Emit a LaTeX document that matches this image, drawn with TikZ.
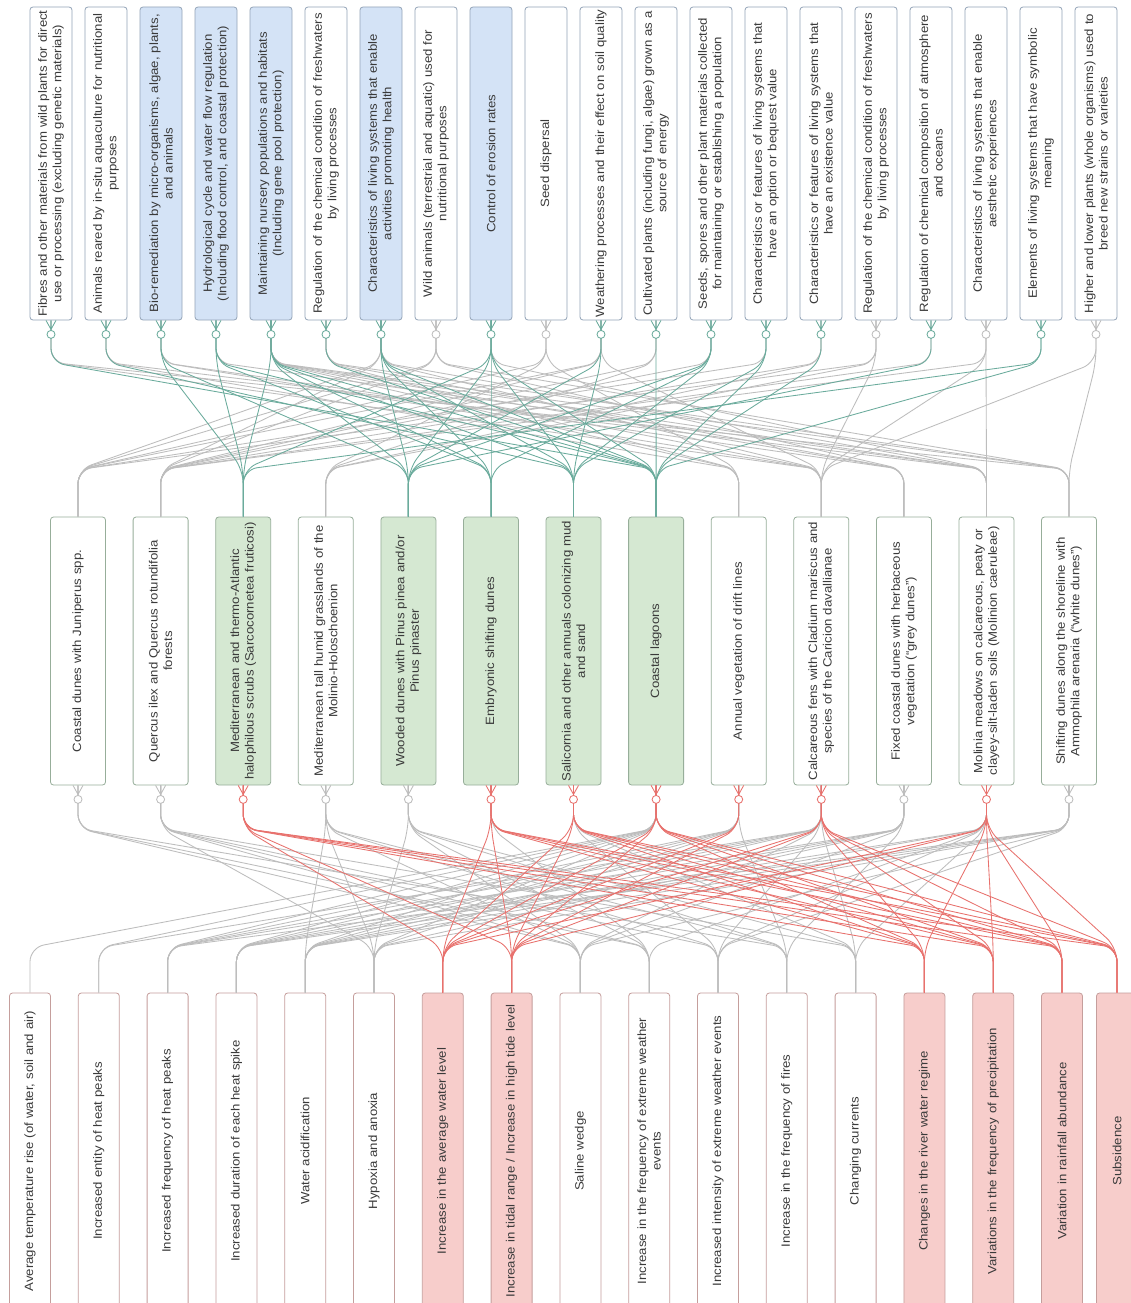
\documentclass[tikz,border=0pt]{standalone}
\usepackage{fontspec}
\newfontfamily\labelfont[FakeStretch=1.1]{Liberation Sans}
\usetikzlibrary{calc}
\definecolor{txt}{HTML}{3A3A3A}
\definecolor{svcborder}{HTML}{93A4B8}
\definecolor{svcfill}{HTML}{D4E3F6}
\definecolor{habborder}{HTML}{97AE9A}
\definecolor{habfill}{HTML}{D5E8D2}
\definecolor{prsborder}{HTML}{C59E9C}
\definecolor{prsfill}{HTML}{F7CDCB}
\definecolor{edgegray}{HTML}{BDBDBD}
\definecolor{edgeteal}{HTML}{6AAB9C}
\definecolor{edgered}{HTML}{E8716D}

% crow's foot (zero or many) under a box
\newcommand\zeromany[2]{%
  \draw[#2, line width=0.85pt]
    ($(#1.west)+(-5,0)$) -- ($(#1.west)+(0,9)$) -- ($(#1.west)+(5,0)$)
    ($(#1.west)$) -- ($(#1.west)+(0,10)$);
  \draw[#2, line width=0.85pt, fill=white] ($(#1.west)+(0,14)$) circle (4pt);}

\begin{document}
\begin{tikzpicture}[x=1pt,y=-1pt,
  box/.style={draw, rounded corners=3pt, rotate=90, inner sep=1pt, align=center,
    text=txt, font=\labelfont\fontsize{12}{14.5}\selectfont, line width=0.8pt},
  svc/.style={box, draw=svcborder, fill=white, minimum width=313pt, minimum height=42pt, text width=309pt},
  svchl/.style={svc, fill=svcfill},
  hab/.style={box, draw=habborder, fill=white, minimum width=268pt, minimum height=55pt, text width=264pt},
  habhl/.style={hab, fill=habfill},
  prs/.style={box, draw=prsborder, fill=white, minimum width=316pt, minimum height=41pt, text width=312pt},
  prshl/.style={prs, fill=prsfill},
  link/.style={line width=0.85pt, rounded corners=14pt},
  glink/.style={link, draw=edgegray},
  tlink/.style={link, draw=edgeteal},
  rlink/.style={link, draw=edgered}]
\useasboundingbox (0,0) rectangle (1131,1303);
\clip (0,0) rectangle (1131,1303);
\fill[white] (0,0) rectangle (1131,1303);

% ---------- ecosystem services (top row) ----------
\node[svc]   (t1)  at (51,163.5)   {Fibres and other materials from wild plants for direct\\use or processing (excluding genetic materials)};
\node[svc]   (t2)  at (106,163.5)  {Animals reared by in-situ aquaculture for nutritional\\purposes};
\node[svchl] (t3)  at (161,163.5)  {Bio-remediation by micro-organisms, algae, plants,\\and animals};
\node[svchl] (t4)  at (216,163.5)  {Hydrological cycle and water flow regulation\\(Including flood control, and coastal protection)};
\node[svchl] (t5)  at (271,163.5)  {Maintaining nursery populations and habitats\\(Including gene pool protection)};
\node[svc]   (t6)  at (326,163.5)  {Regulation of the chemical condition of freshwaters\\by living processes};
\node[svchl] (t7)  at (381,163.5)  {Characteristics of living systems that enable\\activities promoting health};
\node[svc]   (t8)  at (436,163.5)  {Wild animals (terrestrial and aquatic) used for\\nutritional purposes};
\node[svchl] (t9)  at (491,163.5)  {Control of erosion rates};
\node[svc]   (t10) at (546,163.5)  {Seed dispersal};
\node[svc]   (t11) at (601,163.5)  {Weathering processes and their effect on soil quality};
\node[svc]   (t12) at (656,163.5)  {Cultivated plants (including fungi, algae) grown as a\\source of energy};
\node[svc]   (t13) at (711,163.5)  {Seeds, spores and other plant materials collected\\for maintaining or establishing a population};
\node[svc]   (t14) at (766,163.5)  {Characteristics or features of living systems that\\have an option or bequest value};
\node[svc]   (t15) at (821,163.5)  {Characteristics or features of living systems that\\have an existence value};
\node[svc]   (t16) at (876,163.5)  {Regulation of the chemical condition of freshwaters\\by living processes};
\node[svc]   (t17) at (931,163.5)  {Regulation of chemical composition of atmosphere\\and oceans};
\node[svc]   (t18) at (986,163.5)  {Characteristics of living systems that enable\\aesthetic experiences};
\node[svc]   (t19) at (1041,163.5) {Elements of living systems that have symbolic\\meaning};
\node[svc]   (t20) at (1096,163.5) {Higher and lower plants (whole organisms) used to\\breed new strains or varieties};

% ---------- habitats (middle row) ----------
\node[hab]   (m1)  at (78,651)     {Coastal dunes with Juniperus spp.};
\node[hab]   (m2)  at (160.6,651)  {Quercus ilex and Quercus rotundifolia\\forests};
\node[habhl] (m3)  at (243.2,651)  {Mediterranean and thermo-Atlantic\\halophilous scrubs (Sarcocornetea fruticosi)};
\node[hab]   (m4)  at (325.8,651)  {Mediterranean tall humid grasslands of the\\Molinio-Holoschoenion};
\node[habhl] (m5)  at (408.4,651)  {Wooded dunes with Pinus pinea and/or\\Pinus pinaster};
\node[habhl] (m6)  at (491,651)    {Embryonic shifting dunes};
\node[habhl] (m7)  at (573.5,651)  {Salicornia and other annuals colonizing mud\\and sand};
\node[habhl] (m8)  at (656.1,651)  {Coastal lagoons};
\node[hab]   (m9)  at (738.7,651)  {Annual vegetation of drift lines};
\node[hab]   (m10) at (821.3,651)  {Calcareous fens with Cladium mariscus and\\species of the Caricion davallianae};
\node[hab]   (m11) at (903.9,651)  {Fixed coastal dunes with herbaceous\\vegetation (“grey dunes”)};
\node[hab]   (m12) at (986.5,651)  {Molinia meadows on calcareous, peaty or\\clayey-silt-laden soils (Molinion caeruleae)};
\node[hab]   (m13) at (1069,651)   {Shifting dunes along the shoreline with\\Ammophila arenaria (“white dunes”)};

% ---------- pressures (bottom row) ----------
\node[prs]   (b1)  at (30,1151)    {Average temperature rise (of water, soil and air)};
\node[prs]   (b2)  at (98.8,1151)  {Increased entity of heat peaks};
\node[prs]   (b3)  at (167.6,1151) {Increased frequency of heat peaks};
\node[prs]   (b4)  at (236.4,1151) {Increased duration of each heat spike};
\node[prs]   (b5)  at (305.2,1151) {Water acidification};
\node[prs]   (b6)  at (374,1151)   {Hypoxia and anoxia};
\node[prshl] (b7)  at (442.8,1151) {Increase in the average water level};
\node[prshl] (b8)  at (511.6,1151) {Increase in tidal range / Increase in high tide level};
\node[prs]   (b9)  at (580.4,1151) {Saline wedge};
\node[prs]   (b10) at (649.2,1151) {Increase in the frequency of extreme weather\\events};
\node[prs]   (b11) at (718,1151)   {Increased intensity of extreme weather events};
\node[prs]   (b12) at (786.8,1151) {Increase in the frequency of fires};
\node[prs]   (b13) at (855.6,1151) {Changing currents};
\node[prshl] (b14) at (924.4,1151) {Changes in the river water regime};
\node[prshl] (b15) at (993.2,1151) {Variations in the frequency of precipitation};
\node[prshl] (b16) at (1062,1151)  {Variation in rainfall abundance};
\node[prshl] (b17) at (1117,1151)  {Subsidence};

% bend points of the connectors
\foreach \i in {1,...,20} \coordinate (to\i) at ($(t\i.west)+(0,42)$);
\foreach \j in {1,...,13} {
  \coordinate (mi\j) at ($(m\j.east)+(0,-47)$);
  \coordinate (mo\j) at ($(m\j.west)+(0,43)$);}
\foreach \k in {1,...,17} \coordinate (bi\k) at ($(b\k.east)+(0,-45)$);

% ---------- services -> habitats ----------
\foreach \s/\d in {1/10,1/13,2/9,2/12,3/10,3/11,4/12,5/9,5/10,5/11,5/12,5/13,
                   6/9,6/11,6/13,7/1,7/2,7/10,7/12,8/1,8/2,8/11,8/13,9/12,
                   10/1,10/4,10/9,11/1,11/2,11/10,12/2,12/4,13/2,14/1,15/4,15/2,
                   16/1,16/4,16/10,17/2,18/2,18/10,18/12,20/13,20/10}
  \draw[glink] (t\s.west) -- (to\s) -- (mi\d) -- (m\d.east);
\foreach \s/\d in {1/8,2/7,3/3,3/5,4/3,4/6,4/8,5/3,5/5,5/6,5/7,5/8,6/8,
                   7/5,7/6,7/7,7/8,9/3,9/5,9/6,9/7,9/8,11/5,11/7,12/8,
                   13/5,13/6,13/7,14/7,14/8,15/8,17/5,19/3,19/8}
  \draw[tlink] (t\s.west) -- (to\s) -- (mi\d) -- (m\d.east);

% ---------- habitats -> pressures ----------
\foreach \s/\d in {1/9,1/10,1/12,2/6,2/9,2/10,2/11,2/13,4/5,4/6,4/9,4/11,4/12,
                   5/6,5/9,5/10,5/12,5/13,6/10,7/11,7/13,8/1,8/2,8/3,8/4,8/5,8/6,
                   9/3,9/4,9/5,9/6,9/12,10/2,10/3,10/4,10/5,10/9,10/11,10/13,
                   11/3,11/4,11/5,11/6,11/9,11/12,12/4,12/5,12/10,12/11,12/13,
                   13/3,13/4,13/5,13/6,13/9,13/11}
  \draw[glink] (m\s.west) -- (mo\s) -- (bi\d) -- (b\d.east);
\foreach \s/\d in {3/7,3/8,3/14,3/15,3/16,3/17,6/7,6/8,6/14,6/15,6/16,6/17,
                   7/7,7/8,7/14,7/15,7/16,7/17,8/7,8/8,8/14,8/15,8/16,8/17,
                   9/7,9/8,10/7,10/8,10/14,10/15,10/16,10/17,
                   12/7,12/8,12/14,12/15,12/16,12/17}
  \draw[rlink] (m\s.west) -- (mo\s) -- (bi\d) -- (b\d.east);

% ---------- end symbols ----------
\foreach \i in {8,10,16,18,20} {\zeromany{t\i}{edgegray}}
\foreach \i in {1,2,3,4,5,6,7,9,11,12,13,14,15,17,19} {\zeromany{t\i}{edgeteal}}
\foreach \j in {1,2,4,5,11,13} {\zeromany{m\j}{edgegray}}
\foreach \j in {3,6,7,8,9,10,12} {\zeromany{m\j}{edgered}}
\end{tikzpicture}
\end{document}
